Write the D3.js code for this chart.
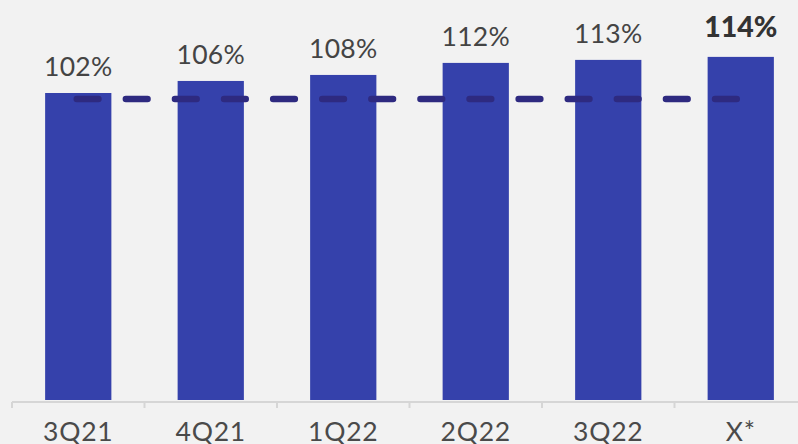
<!DOCTYPE html>
<html><head><meta charset="utf-8">
<script src="https://cdn.jsdelivr.net/npm/d3@7"></script>
<style>html,body{margin:0;padding:0;background:#f2f2f2;}svg{display:block;}</style>
</head><body>
<svg id="chart" width="798" height="444"></svg>
<script>
const categories = ["3Q21","4Q21","1Q22","2Q22","3Q22","X*"];
const values = [102,106,108,112,113,114];
const labels = ["102%","106%","108%","112%","113%","114%"];
const boldIndex = [5];
const referenceValue = 100;

const W = 798, H = 444;
const svg = d3.select("#chart");
svg.append("rect").attr("width",W).attr("height",H).attr("fill","#f2f2f2");

const x = d3.scaleBand().domain(categories).range([12, 807]).paddingInner(0.5).paddingOuter(0.25);
const y = d3.scaleLinear().domain([0, 132.9]).range([400, 0]);
const step = x.step();

// bars
svg.selectAll("rect.bar").data(values).enter().append("rect")
  .attr("class","bar")
  .attr("x",(d,i)=>x(categories[i]))
  .attr("width",x.bandwidth())
  .attr("y",d=>y(d))
  .attr("height",d=>y(0)-y(d))
  .attr("fill","#3541ab");

// reference dashed line
const cx = c => x(c) + x.bandwidth()/2;
svg.append("line")
  .attr("x1", cx(categories[0]) - 1.5)
  .attr("x2", cx(categories[categories.length-1]))
  .attr("y1", y(referenceValue)).attr("y2", y(referenceValue))
  .attr("stroke","#2e2a80").attr("stroke-width",6.5)
  .attr("stroke-linecap","round")
  .attr("stroke-dasharray","21.7,27.4");

// axis
const axisY = 402;
svg.append("line").attr("x1",12).attr("x2",W).attr("y1",axisY).attr("y2",axisY)
  .attr("stroke","#d6d6d6").attr("stroke-width",2);
categories.forEach((c,i)=>{
  const tx = x(c) - step*x.paddingInner()/2;
  svg.append("line").attr("x1",tx).attr("x2",tx).attr("y1",axisY).attr("y2",axisY+6)
    .attr("stroke","#d6d6d6").attr("stroke-width",2);
});

// category labels
svg.selectAll("text.cat").data(categories).enter().append("text")
  .attr("class","cat")
  .attr("x",d=>cx(d)).attr("y",440.5)
  .attr("text-anchor","middle")
  .attr("font-family","Lato, sans-serif").attr("font-size",26.5)
  .attr("letter-spacing",0.8)
  .attr("fill","#4a4a4a")
  .text(d=>d);

// value labels
svg.selectAll("text.val").data(values).enter().append("text")
  .attr("class","val")
  .attr("x",(d,i)=>cx(categories[i]))
  .attr("y",(d,i)=> boldIndex.includes(i) ? y(d)-20 : y(d)-17)
  .attr("text-anchor","middle")
  .attr("font-family","Lato, sans-serif")
  .attr("font-size",(d,i)=> boldIndex.includes(i) ? 28.5 : 26.5)
  .attr("font-weight",(d,i)=> boldIndex.includes(i) ? 900 : 400)
  .attr("letter-spacing",(d,i)=> boldIndex.includes(i) ? 0 : 0.3)
  .attr("fill",(d,i)=> boldIndex.includes(i) ? "#333333" : "#444444")
  .text((d,i)=>labels[i]);
</script>
</body></html>
